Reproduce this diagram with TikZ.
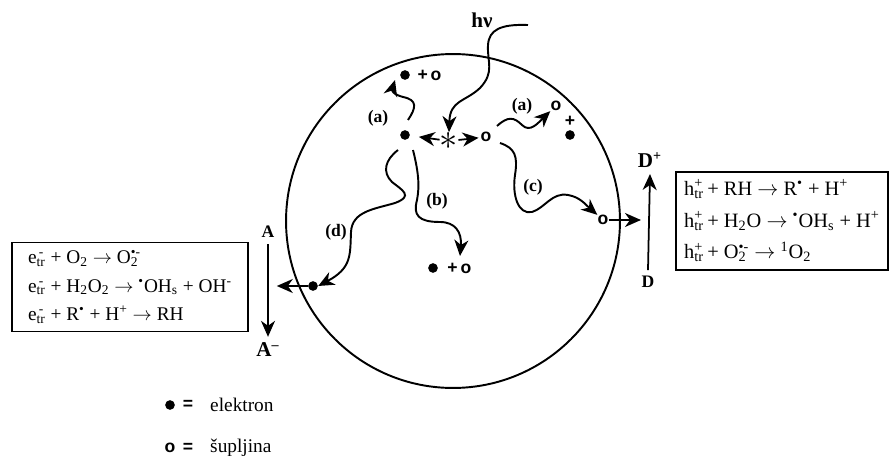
\documentclass[tikz,border=0pt]{standalone}
\usepackage{fontspec}
\setmainfont{Liberation Serif}
\newfontfamily\symfont{Liberation Sans}
\usetikzlibrary{arrows.meta,positioning}
\newcommand{\etr}{e\rlap{\textsuperscript{\,-}}\textsubscript{tr}}
\newcommand{\htr}{h\rlap{\textsuperscript{+}}\textsubscript{tr}\,}
\newcommand{\rad}{\textsuperscript{\textbullet}}
\newcommand{\ra}{$\rightarrow$}

\begin{document}
\begin{tikzpicture}[x=0.02cm, y=-0.02cm,
      electron/.style={circle, fill, inner sep=0pt, minimum size=5.5pt},
      hole/.style={inner sep=0pt, font=\symfont\bfseries},
      lbl/.style={font=\bfseries, inner sep=1pt},
      eqbox/.style={draw, line width=1pt, align=left, inner xsep=3pt},
      arr/.style={-{Stealth[length=3.2mm, width=2.8mm, inset=1mm]}, line width=1pt},
      wave/.style={arr, line width=1.1pt}]
    \useasboundingbox (0,0) rectangle (893,456);
    \node[circle, draw, line width=1.1pt, minimum size=6.68cm, inner sep=0pt] (grain) at (453,221) {};
    % excitation
    \node[font=\bfseries\large] (hv) at (482,20) {hν};
    \node[font=\huge, inner sep=0pt] (star) at (449,141) {$\ast$};
    \node[electron] (e0) at (405,135) {};
    \node[hole] (h0) at (486,137) {o};
    \coordinate (hvstart) at (528,25);
    \draw[wave] (hvstart) .. controls (500,24) and (489,30) .. (488,45)
      .. controls (487,62) and (495,72) .. (480,88)
      .. controls (465,102) and (450,100) .. (star.north);
    \draw[arr, shorten >=5pt] (star) -- (e0);
    \draw[arr, shorten >=1pt] (star) -- (h0);
    % (a) recombination, left
    \node[electron] (e1) at (405,75) {};
    \node[hole, right=4pt of e1] (e1h) {+\,o};
    \node[lbl] (la1) at (378,118) {(a)};
    \coordinate (a1start) at (408,120);
    \draw[wave] (a1start) .. controls (416,108) and (418,100) .. (403,97)
      .. controls (392,94) and (392,90) .. (395,80);
    % (a) recombination, right
    \node[hole] (h1) at (556,106) {o};
    \node[hole] (h1p) at (570,121) {+};
    \node[electron] (e2) at (570,135) {};
    \node[lbl] (la2) at (522,106) {(a)};
    \coordinate (a2start) at (497,126);
    \draw[wave] (a2start) .. controls (508,116) and (514,117) .. (522,125)
      .. controls (530,133) and (538,123) .. (h1.south west);
    % (c) hole to surface
    \node[hole] (h2) at (603,220) {o};
    \node[lbl] (lc) at (533,187) {(c)};
    \coordinate (cstart) at (500,143);
    \draw[wave] (cstart) .. controls (515,148) and (518,156) .. (515,175)
      .. controls (512,195) and (518,215) .. (532,212)
      .. controls (545,208) and (552,192) .. (568,195)
      .. controls (580,197) and (586,205) .. (h2.north west);
    \node[font=\bfseries\large] (dplus) at (650,160) {D\textsuperscript{+}};
    \node[font=\bfseries] (dd) at (648,282) {D};
    \draw[arr] (dd.north) -- (dplus.south);
    \draw[arr, shorten >=4pt] (h2.east) -- (h2 -| dd);
    \node[eqbox, minimum width=4.24cm, minimum height=1.96cm,
          font=\fontsize{11.6}{18}\selectfont] (hbox) at (782,221)
      {\htr + RH \ra{} R\rad{} + H\textsuperscript{+}\\
       \htr + H\textsubscript{2}O \ra{} \rad OH\textsubscript{s} + H\textsuperscript{+}\\
       \htr + O\rlap{\textsubscript{2}}\textsuperscript{\textbullet-} \ra{} \textsuperscript{1}O\textsubscript{2}};
    % (b) electron in bulk
    \node[electron] (e4) at (433,268) {};
    \node[hole, right=5pt of e4] (e4h) {+\,o};
    \node[lbl] (lb) at (437,201) {(b)};
    \coordinate (bstart) at (413,150);
    \draw[wave] (bstart) .. controls (418,170) and (420,185) .. (417,200)
      .. controls (413,215) and (418,222) .. (440,222)
      .. controls (455,222) and (462,232) .. (460,256);
    % (d) electron to surface
    \node[electron] (e3) at (313,286) {};
    \node[lbl] (ld) at (336,232) {(d)};
    \coordinate (dstart) at (398,150);
    \draw[wave] (dstart) .. controls (385,160) and (382,172) .. (392,182)
      .. controls (402,190) and (414,196) .. (395,203)
      .. controls (375,209) and (352,211) .. (351,232)
      .. controls (350,255) and (352,268) .. (e3.east);
    \node[font=\bfseries] (aa) at (268,232) {A};
    \node[font=\bfseries\large] (aminus) at (268,350) {A\textsuperscript{\textendash}};
    \draw[arr] (aa.south) -- (aminus.north);
    \draw[arr, shorten >=5pt] (e3.west) -- (e3 -| aa);
    \node[eqbox, minimum width=4.72cm, minimum height=1.78cm,
          font=\fontsize{11}{16}\selectfont] (ebox) at (130,287)
      {\etr{} + O\textsubscript{2} \ra{} O\rlap{\textsubscript{2}}\textsuperscript{\textbullet-}\\
       \etr{} + H\textsubscript{2}O\textsubscript{2} \ra{} \rad OH\textsubscript{s} + OH\textsuperscript{-}\\
       \etr{} + R\rad{} + H\textsuperscript{+} \ra{} RH};
    % legend
    \node[electron] (le) at (170,405) {};
    \node[hole] (leq) at (188,405) {=};
    \node[right=6pt of leq, font=\fontsize{11}{13}\selectfont] (letext) {elektron};
    \node[hole] (lh) at (170,448) {o};
    \node[hole] (lheq) at (188,448) {=};
    \node[right=6pt of lheq, font=\fontsize{11}{13}\selectfont] (lhtext) {šupljina};
  \end{tikzpicture}
\end{document}
